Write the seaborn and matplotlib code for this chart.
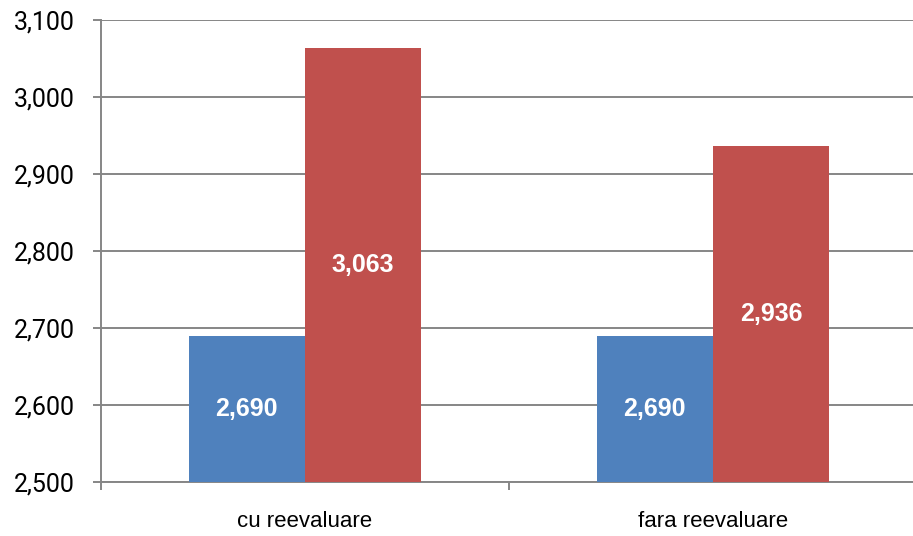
import matplotlib
matplotlib.use("Agg")
import matplotlib.pyplot as plt
import seaborn as sns
import pandas as pd

categories = ["cu reevaluare", "fara reevaluare"]
series_names = ["seria 1", "seria 2"]
values_s1 = [2690, 2690]
values_s2 = [3063, 2936]
y_ticks = [2500, 2600, 2700, 2800, 2900, 3000, 3100]

sns.set_style("white")
plt.rcParams['font.family'] = ['Roboto', 'DejaVu Sans']

df = pd.DataFrame({
    "categorie": categories * 2,
    "serie": [series_names[0]] * 2 + [series_names[1]] * 2,
    "valoare": values_s1 + values_s2,
})

fig = plt.figure(figsize=(9.13, 5.36), dpi=100)
ax = fig.add_axes([101 / 913, 54 / 536, 816 / 913, 462 / 536])

sns.barplot(data=df, x="categorie", y="valoare", hue="serie",
            palette=["#4F81BD", "#C0504D"], width=0.57, gap=0,
            saturation=1, legend=False, errorbar=None, ax=ax,
            edgecolor="none", zorder=3)

ax.set_ylim(y_ticks[0], y_ticks[-1])
ax.set_xlim(-0.5, len(categories) - 0.5)
ax.set_yticks(y_ticks)
ax.set_yticklabels([f"{t:,}" for t in y_ticks])
ax.yaxis.grid(True, color="#868686", linewidth=1.4, zorder=0)
ax.set_axisbelow(True)

ax.set_xlabel("")
ax.set_ylabel("")

for s in ["top", "right"]:
    ax.spines[s].set_visible(False)
for s in ["left", "bottom"]:
    ax.spines[s].set_color("#868686")
    ax.spines[s].set_linewidth(1.4)

ax.tick_params(axis="y", direction="out", length=6, width=1.4, color="#868686",
               pad=13, labelsize=18, left=True, labelcolor="black")
ax.tick_params(axis="x", which="major", length=0, pad=21, labelcolor="black")
ax.set_xticks(range(len(categories)))
ax.set_xticklabels(categories, family=["Liberation Sans"], fontsize=16)
ax.set_xticks([i - 0.5 for i in range(len(categories) + 1)], minor=True)
ax.tick_params(axis="x", which="minor", direction="out", length=6, width=1.4,
               color="#868686", bottom=True)

base = y_ticks[0]
for p in ax.patches:
    h = p.get_height()
    if h <= 0:
        continue
    ax.text(p.get_x() + p.get_width() / 2, (base + h) / 2, f"{h:,.0f}",
            ha="center", va="center", color="white", fontsize=18,
            fontweight="bold", family=["Liberation Sans"], zorder=4)

fig.savefig("out.png", dpi=100)
